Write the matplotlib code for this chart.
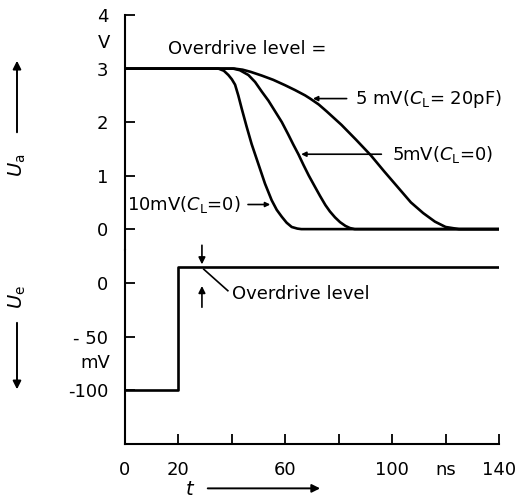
import numpy as np
import matplotlib
matplotlib.use('Agg')
import matplotlib.pyplot as plt

# output voltage U_a (V) vs time (ns)
t_10mv = [0, 35, 37, 38.7, 40, 41.2, 42.4, 43.7, 45.5, 47.4, 49.9, 52.4, 54.9,
          56.8, 58.7, 60.5, 62.4, 64.5, 66, 140]
ua_10mv = [3, 3, 2.96, 2.88, 2.8, 2.7, 2.5, 2.25, 1.92, 1.59, 1.22, 0.85, 0.54,
           0.36, 0.23, 0.12, 0.04, 0.01, 0, 0]

t_5mv = [0, 40.5, 43, 46.2, 48.7, 51.2, 53.7, 56.2, 58.7, 61.1, 63, 64.9, 66.8,
         68.8, 71, 73, 75, 76.7, 78.6, 80.5, 82.5, 84.2, 86, 140]
ua_5mv = [3, 3, 2.97, 2.88, 2.75, 2.57, 2.4, 2.2, 2.0, 1.77, 1.58, 1.4, 1.2,
          1.0, 0.8, 0.62, 0.45, 0.33, 0.22, 0.13, 0.06, 0.02, 0, 0]

t_5mv_20pf = [0, 41, 44, 47, 51.2, 55.5, 59.9, 63.6, 67.4, 69.3, 72.5, 75.5, 81,
              86.5, 92, 97, 102, 107, 111.6, 116, 120, 125, 140]
ua_5mv_20pf = [3, 3, 2.98, 2.94, 2.87, 2.79, 2.69, 2.6, 2.5, 2.44, 2.33, 2.2, 1.95,
               1.67, 1.38, 1.08, 0.79, 0.5, 0.3, 0.14, 0.04, 0, 0]

# input step U_e (mV)
t_step = [0, 20, 20, 140]
ue_step = [-100, -100, 15, 15]

x_ticks = [0, 20, 40, 60, 80, 100, 120, 140]
x_ticklabels = ['0', '20', '', '60', '', '100', 'ns', '140']
ua_ticks = [0, 1, 2, 3, 4]
ue_ticks = [-100, -50, 0]
ue_ticklabels = ['-100', '- 50', '0']

plt.rcParams['font.family'] = ['DejaVu Sans']
plt.rcParams['mathtext.fontset'] = 'dejavusans'
FS = 13
LW = 1.9

fig = plt.figure(figsize=(5.15, 5.04), dpi=100)
ax_top = fig.add_axes([0.2427, 0.504, 0.7263, 0.466])
ax_bot = fig.add_axes([0.2427, 0.119, 0.7263, 0.385])

for ax in (ax_top, ax_bot):
    ax.set_xlim(0, 140)
    for side in ('top', 'right'):
        ax.spines[side].set_visible(False)
    ax.spines['left'].set_linewidth(1.5)
    ax.spines['bottom'].set_linewidth(1.5)
    ax.tick_params(direction='in', length=7, width=1.3, labelsize=FS, pad=12)

# upper panel
ax_top.spines['bottom'].set_visible(False)
ax_top.set_ylim(-0.39, 4.0)
ax_top.set_yticks(ua_ticks)
ax_top.set_xticks([])
for t, ua in ((t_10mv, ua_10mv), (t_5mv, ua_5mv), (t_5mv_20pf, ua_5mv_20pf)):
    ax_top.plot(t, ua, color='black', lw=LW, solid_joinstyle='round')
ax_top.text(-0.04, 3.47, 'V', transform=ax_top.get_yaxis_transform(),
            ha='right', va='center', fontsize=FS)

ax_top.text(16, 3.37, 'Overdrive level =', fontsize=FS, va='center', ha='left')

arrow_kw = dict(arrowstyle='-|>', color='black', lw=1.2, mutation_scale=7)
ax_top.annotate('', xy=(69.3, 2.44), xytext=(84, 2.44), arrowprops=arrow_kw)
ax_top.text(86, 2.44, r'5 mV($C_\mathrm{L}$= 20pF)', fontsize=FS, va='center')
ax_top.annotate('', xy=(64.9, 1.4), xytext=(97, 1.4), arrowprops=arrow_kw)
ax_top.text(100, 1.4, r'5mV($C_\mathrm{L}$=0)', fontsize=FS, va='center')
ax_top.annotate('', xy=(55.4, 0.46), xytext=(45, 0.46), arrowprops=arrow_kw)
ax_top.text(43.5, 0.46, r'10mV($C_\mathrm{L}$=0)', fontsize=FS, va='center', ha='right')

# lower panel
ax_bot.spines['top'].set_visible(False)
ax_bot.set_ylim(-150, 31)
ax_bot.set_yticks(ue_ticks)
ax_bot.set_yticklabels(ue_ticklabels)
ax_bot.set_xticks(x_ticks)
ax_bot.set_xticklabels(x_ticklabels)
ax_bot.plot(t_step, ue_step, color='black', lw=LW)
ax_bot.text(-0.04, -74, 'mV', transform=ax_bot.get_yaxis_transform(),
            ha='right', va='center', fontsize=FS)

ax_bot.annotate('', xy=(28.8, 15), xytext=(28.8, 38), arrowprops=dict(
    arrowstyle='-|>', color='black', lw=1.2, mutation_scale=10), annotation_clip=False)
ax_bot.annotate('', xy=(28.8, 0), xytext=(28.8, -25), arrowprops=dict(
    arrowstyle='-|>', color='black', lw=1.2, mutation_scale=10))
ax_bot.plot([29.5, 38.5], [13, -7], color='black', lw=1.2)
ax_bot.text(40, -10, 'Overdrive level', fontsize=FS, va='center', ha='left')

# axis quantity labels with direction arrows
fig.text(0.033, 0.672, r'$U_\mathrm{a}$', rotation=90, ha='center', va='center', fontsize=FS + 1)
fig.text(0.033, 0.411, r'$U_\mathrm{e}$', rotation=90, ha='center', va='center', fontsize=FS + 1)
fig.text(0.369, 0.028, r'$t$', ha='center', va='center', fontsize=FS + 1)
big_arrow = dict(arrowstyle='-|>', color='black', lw=1.4, mutation_scale=12)
fig.add_artist(matplotlib.patches.FancyArrowPatch((0.033, 0.732), (0.033, 0.885),
                                                  transform=fig.transFigure, **big_arrow))
fig.add_artist(matplotlib.patches.FancyArrowPatch((0.033, 0.365), (0.033, 0.222),
                                                  transform=fig.transFigure, **big_arrow))
fig.add_artist(matplotlib.patches.FancyArrowPatch((0.398, 0.031), (0.627, 0.031),
                                                  transform=fig.transFigure, **big_arrow))

fig.savefig('out.png', dpi=100)
